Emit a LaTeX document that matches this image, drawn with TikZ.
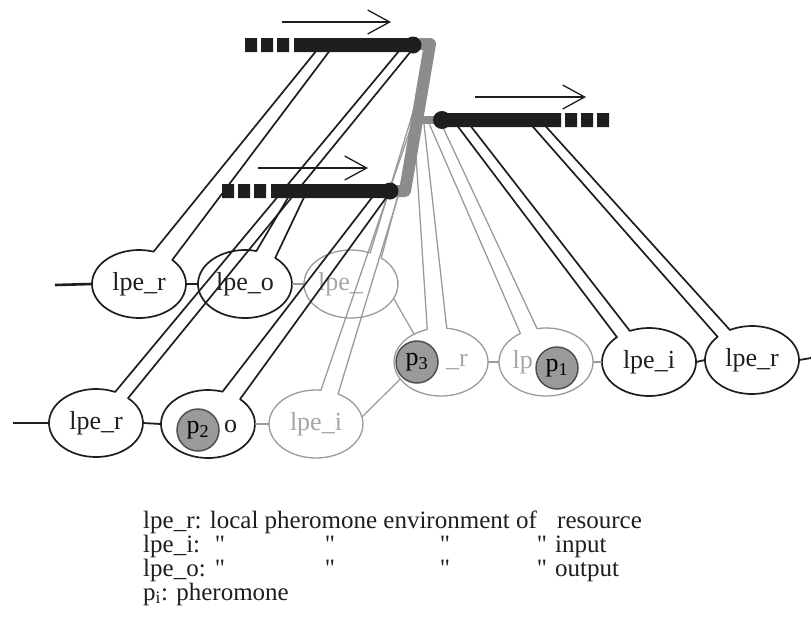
\documentclass[tikz,border=0pt]{standalone}
\usepackage{fontspec}
\setmainfont{Liberation Serif}
\usetikzlibrary{arrows.meta,shapes.geometric,calc}
\definecolor{ink}{HTML}{1E1E1E}
\definecolor{faint}{HTML}{A6A6A6}
\definecolor{faintline}{HTML}{9A9A9A}
\definecolor{linkgray}{HTML}{8C8C8C}
\definecolor{pherfill}{HTML}{9A9A9A}
\definecolor{pherline}{HTML}{505050}
% an environment ellipse whose outline opens at the top into a two-line stalk
% #1 style, #2 node, #3 left angle, #4 right angle (+360), #5/#6 stalk ends
\newcommand\stalkedlpe[6]{%
  \coordinate (#2-l) at ($(#2.center)+(#3:47 and 34)$);
  \draw[#1] (#5) -- (#2-l) arc[start angle=#3, end angle=#4, x radius=47, y radius=34] -- (#6);
}
\begin{document}
\begin{tikzpicture}[x=1pt,y=1pt,
  lpe/.style={ellipse, inner sep=0pt, minimum width=94pt, minimum height=68pt, font=\fontsize{26}{28}\selectfont},
  part/.style={inner sep=0pt, font=\fontsize{26}{28}\selectfont},
  solidlpe/.style={draw=ink, line width=1.7pt, line join=round},
  fadedlpe/.style={draw=faintline, line width=1.3pt, line join=round},
  tie/.style={draw=ink, line width=1.8pt},
  fadedtie/.style={draw=faintline, line width=1.2pt},
  stub/.style={draw=ink, line width=2.6pt},
  flow/.style={draw=ink, line width=1.3pt, -{Straight Barb[length=22pt,width=24pt,line width=1.3pt]}},
  link/.style={draw=linkgray, line width=12pt, line join=round, line cap=round},
  pher/.style={circle, fill=pherfill, draw=pherline, line width=1.5pt, minimum size=42pt, inner sep=0pt, font=\fontsize{26}{28}\selectfont},
  legend/.style={anchor=base west, inner sep=0pt, text=ink, font=\fontsize{25}{25}\selectfont},
]
\useasboundingbox (0,0) rectangle (811,-641);

% ---- local pheromone environments ----
\node[lpe, text=ink] (r1a) at (139,-284) {lpe\_r};
\node[lpe, text=ink] (r1b) at (245,-284) {lpe\_o};
\node[lpe] (r1c) at (351,-284) {};
\node[part, anchor=west, text=faint] (r1c-label) at (318,-284) {lpe\_};
\node[lpe] (r2a) at (441,-362) {};
\node[part, anchor=west, text=faint] (r2a-label) at (446,-362) {\_r};
\node[lpe] (r2b) at (546,-362) {};
\node[part, anchor=east, text=faint] (r2b-label) at (533,-362) {lp};
\node[lpe, text=ink] (r2c) at (649,-362) {lpe\_i};
\node[lpe, text=ink] (r2d) at (752,-360) {lpe\_r};
\node[lpe, text=ink] (r3a) at (96,-423) {lpe\_r};
\node[lpe] (r3b) at (208,-424) {};
\node[part, anchor=west, text=ink] (r3b-label) at (224,-426) {o};
\node[lpe, text=faint] (r3c) at (316,-424) {lpe\_i};

% ---- stalk ends on the bars and on the grey link ----
\coordinate (T1a) at (321,-45);  \coordinate (T1b) at (334,-45);
\coordinate (T2a) at (404,-45);  \coordinate (T2b) at (416,-45);
\coordinate (L1a) at (292,-191); \coordinate (L1b) at (307,-191);
\coordinate (L2a) at (377,-191); \coordinate (L2b) at (391,-191);
\coordinate (R1a) at (453,-120); \coordinate (R1b) at (466,-120);
\coordinate (R2a) at (527,-120); \coordinate (R2b) at (540,-120);
\coordinate (G1a) at (421,-86);  \coordinate (G1b) at (424,-98);
\coordinate (G2a) at (419,-104); \coordinate (G2b) at (423,-114);
\coordinate (G3a) at (415,-140); \coordinate (G3b) at (424,-124);
\coordinate (G4a) at (428,-121); \coordinate (G4b) at (440,-121);

% faded environments (hung from the grey link)
\stalkedlpe{fadedlpe}{r1c}{66}{410}{G1a}{G1b}
\stalkedlpe{fadedlpe}{r3c}{84}{422}{G2a}{G2b}
\stalkedlpe{fadedlpe}{r2a}{107}{443}{G3a}{G3b}
\stalkedlpe{fadedlpe}{r2b}{123}{461}{G4a}{G4b}
% solid environments (hung from the three bars)
\stalkedlpe{solidlpe}{r1a}{72}{405}{T1a}{T1b}
\stalkedlpe{solidlpe}{r3a}{66}{407}{T2a}{T2b}
\stalkedlpe{solidlpe}{r1b}{76}{410}{L1a}{L1b}
\stalkedlpe{solidlpe}{r3b}{72}{407}{L2a}{L2b}
\stalkedlpe{solidlpe}{r2c}{133}{474}{R1a}{R1b}
\stalkedlpe{solidlpe}{r2d}{137}{478}{R2a}{R2b}

% ---- ties between neighbouring environments ----
\coordinate (s1) at (55,-285);
\coordinate (s3) at (13,-423);
\coordinate (s2) at (811,-358);
\draw[stub] (s1) -- (r1a.west);
\draw[stub] (s3) -- (r3a.west);
\draw[tie] (r2d.east) -- (s2);
\draw[tie] (r1a.east) -- (r1b.west);
\draw[fadedtie] (r1b.east) -- (r1c.west);
\draw[fadedtie] (r2a.east) -- (r2b.west);
\draw[fadedtie] (r2b.east) -- (r2c.west);
\draw[tie] (r2c.east) -- (r2d.west);
\draw[tie] (r3a.east) -- (r3b.west);
\draw[fadedtie] (r3b.east) -- (r3c.west);
\coordinate (c1) at ($(r1c.center)+(-25:47 and 34)$);
\coordinate (c2) at ($(r2a.center)+(125:47 and 34)$);
\coordinate (c3) at ($(r2a.center)+(210:47 and 34)$);
\coordinate (c4) at ($(r3c.center)+(12:47 and 34)$);
\draw[fadedtie] (c1) -- (c2);
\draw[fadedtie] (c3) -- (c4);

% ---- grey link joining the three bars ----
\draw[link] (421,-44) -- (430,-44) -- (405,-191) -- (396,-191);
\draw[draw=linkgray, line width=8pt] (418,-120) -- (436,-120);

% ---- bars ----
% top
\fill[ink] (245,-38) rectangle (257,-52) (261,-38) rectangle (273,-52)
           (277,-38) rectangle (289,-52) (294,-38) rectangle (413,-52);
\fill[ink] (413,-45) circle[radius=8.5];
% lower
\fill[ink] (222,-184) rectangle (234,-198) (238,-184) rectangle (250,-198)
           (254,-184) rectangle (266,-198) (271,-184) rectangle (390,-198);
\fill[ink] (390,-191) circle[radius=8.5];
% right
\fill[ink] (442,-120) circle[radius=9];
\fill[ink] (442,-113) rectangle (561,-127) (565,-113) rectangle (577,-127)
           (581,-113) rectangle (593,-127) (597,-113) rectangle (609,-127);

% ---- flow directions ----
\draw[flow] (282,-22) -- (391,-22);
\draw[flow] (475,-97) -- (586,-97);
\draw[flow] (258,-168) -- (368,-168);

% ---- pheromones ----
\node[pher] (p3) at (417,-362) {p\textsubscript{3}};
\node[pher] (p2) at (198,-430) {p\textsubscript{2}};
\node[pher] (p1) at (557,-368) {p\textsubscript{1}};

% ---- key ----
\node[legend] (k1) at (143,-528) {lpe\_r: local pheromone environment of};
\node[legend] (k1v) at (557,-528) {resource};
\node[legend] (k2) at (143,-552) {lpe\_i:};
\node[legend] (k3) at (143,-576) {lpe\_o:};
\foreach \qx in {220,330,445,542}{
  \node[legend, anchor=base] at (\qx,-552) {\textquotedbl};
  \node[legend, anchor=base] at (\qx,-576) {\textquotedbl};
}
\node[legend] (k2v) at (555,-552) {input};
\node[legend] (k3v) at (555,-576) {output};
\node[legend] (k4) at (143,-600) {p\textsubscript{i}: pheromone};
\end{tikzpicture}
\end{document}
